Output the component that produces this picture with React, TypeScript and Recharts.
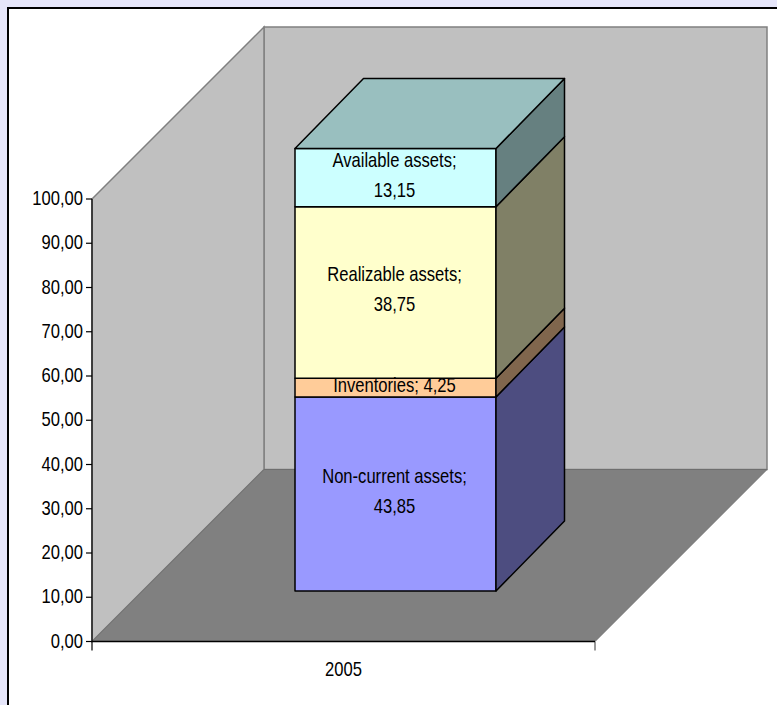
import { Bar, BarChart, LabelList, XAxis, YAxis } from 'recharts'

const years = ['2005']
const nonCurrentAssets = [43.85]
const inventories = [4.25]
const realizableAssets = [38.75]
const availableAssets = [13.15]
const valueTicks = [0, 10, 20, 30, 40, 50, 60, 70, 80, 90, 100]

const rows = years.map((year, i) => ({
  year,
  nonCurrent: nonCurrentAssets[i],
  inventories: inventories[i],
  realizable: realizableAssets[i],
  available: availableAssets[i],
}))

// plot rectangle of the front plane
const PLOT_LEFT = 92
const PLOT_RIGHT = 595
const PLOT_TOP = 199
const PLOT_BOTTOM = 641.5
// how far the walls recede
const WALL_DEPTH = 172
// the column sits halfway into the floor
const COLUMN_SHIFT_X = 52
const COLUMN_SHIFT_Y = -50.5
const COLUMN_DX = 68.5
const COLUMN_DY = -70

const FONT = '"Liberation Sans", Arial, sans-serif'
const TEXT_SQUEEZE = 0.83

const fmt = (v: number) => v.toFixed(2).replace('.', ',')

function Squeezed({ x, y, anchor, children }: any) {
  return (
    <text
      transform={`translate(${x},${y}) scale(${TEXT_SQUEEZE},1)`}
      textAnchor={anchor}
      dominantBaseline="central"
      fontFamily={FONT}
      fontSize={20}
      fill="#000"
    >
      {children}
    </text>
  )
}

function Walls() {
  const d = WALL_DEPTH
  return (
    <g>
      <rect
        x={PLOT_LEFT + d}
        y={PLOT_TOP - d}
        width={PLOT_RIGHT - PLOT_LEFT}
        height={PLOT_BOTTOM - PLOT_TOP}
        fill="#c0c0c0"
        stroke="#808080"
        strokeWidth={1.5}
      />
      <polygon
        points={`${PLOT_LEFT},${PLOT_TOP} ${PLOT_LEFT + d},${PLOT_TOP - d} ${PLOT_LEFT + d},${PLOT_BOTTOM - d} ${PLOT_LEFT},${PLOT_BOTTOM}`}
        fill="#c0c0c0"
        stroke="#808080"
        strokeWidth={1.5}
      />
      <polygon
        points={`${PLOT_LEFT},${PLOT_BOTTOM} ${PLOT_RIGHT},${PLOT_BOTTOM} ${PLOT_RIGHT + d},${PLOT_BOTTOM - d} ${PLOT_LEFT + d},${PLOT_BOTTOM - d}`}
        fill="#808080"
        stroke="#6e6e6e"
        strokeWidth={1}
      />
      <line x1={PLOT_LEFT} x2={PLOT_LEFT} y1={PLOT_BOTTOM} y2={PLOT_BOTTOM + 9} stroke="#000" strokeWidth={1.2} />
      <line x1={PLOT_RIGHT} x2={PLOT_RIGHT} y1={PLOT_BOTTOM} y2={PLOT_BOTTOM + 9} stroke="#555" strokeWidth={1.2} />
    </g>
  )
}

// front, side and (for the last segment) top faces of one stacked segment
const boxShape = (front: string, side: string, top?: string) => (props: any) => {
  const x = props.x + COLUMN_SHIFT_X
  const y = props.y + COLUMN_SHIFT_Y
  const { width: w, height: h } = props
  const dx = COLUMN_DX
  const dy = COLUMN_DY
  return (
    <g stroke="#000" strokeWidth={1.5} strokeLinejoin="round">
      <rect x={x} y={y} width={w} height={h} fill={front} />
      <polygon
        points={`${x + w},${y} ${x + w + dx},${y + dy} ${x + w + dx},${y + h + dy} ${x + w},${y + h}`}
        fill={side}
      />
      {top && (
        <polygon
          points={`${x},${y} ${x + dx},${y + dy} ${x + w + dx},${y + dy} ${x + w},${y}`}
          fill={top}
        />
      )}
    </g>
  )
}

const segmentLabel = (name: string, oneLine?: boolean) => (props: any) => {
  const cx = props.x + COLUMN_SHIFT_X + props.width / 2 - 1
  const cy = props.y + COLUMN_SHIFT_Y + props.height / 2 - 3
  const value = fmt(Number(props.value))
  if (oneLine) {
    return <Squeezed x={cx} y={cy} anchor="middle">{`${name}; ${value}`}</Squeezed>
  }
  return (
    <g>
      <Squeezed x={cx} y={cy - 15} anchor="middle">{`${name};`}</Squeezed>
      <Squeezed x={cx} y={cy + 15} anchor="middle">{value}</Squeezed>
    </g>
  )
}

const YTick = ({ x, y, payload }: any) => (
  <Squeezed x={x - 1} y={y - 1} anchor="end">{fmt(payload.value)}</Squeezed>
)

const XTick = ({ x, y, payload }: any) => (
  <Squeezed x={x} y={y + 19} anchor="middle">{payload.value}</Squeezed>
)

export default function App() {
  return (
    <div style={{ position: 'absolute', left: 0, top: 0, width: 777, height: 705, overflow: 'hidden', background: '#e6e6fa' }}>
      <div style={{ position: 'absolute', left: 7, top: 7, width: 800, height: 800, background: '#fff', border: '2px solid #000' }} />
      <div style={{ position: 'absolute', left: 0, top: 0 }}>
        <BarChart
          width={777}
          height={705}
          data={rows}
          margin={{ left: PLOT_LEFT - 60, right: 777 - PLOT_RIGHT, top: PLOT_TOP, bottom: 705 - PLOT_BOTTOM - 40 }}
        >
          <Walls />
          <XAxis
            dataKey="year"
            height={40}
            axisLine={{ stroke: '#000', strokeWidth: 1.5 }}
            tickLine={false}
            tick={<XTick />}
          />
          <YAxis
            width={60}
            domain={[0, 100]}
            ticks={valueTicks}
            interval={0}
            axisLine={{ stroke: '#000', strokeWidth: 1.2 }}
            tickLine={{ stroke: '#000', strokeWidth: 1.2 }}
            tickSize={6}
            tick={<YTick />}
          />
          <Bar dataKey="nonCurrent" stackId="a" barSize={201} isAnimationActive={false} shape={boxShape('#9999ff', '#4d4d80')}>
            <LabelList dataKey="nonCurrent" content={segmentLabel('Non-current assets')} />
          </Bar>
          <Bar dataKey="inventories" stackId="a" barSize={201} isAnimationActive={false} shape={boxShape('#ffcc99', '#80664d')}>
            <LabelList dataKey="inventories" content={segmentLabel('Inventories', true)} />
          </Bar>
          <Bar dataKey="realizable" stackId="a" barSize={201} isAnimationActive={false} shape={boxShape('#ffffcc', '#808066')}>
            <LabelList dataKey="realizable" content={segmentLabel('Realizable assets')} />
          </Bar>
          <Bar dataKey="available" stackId="a" barSize={201} isAnimationActive={false} shape={boxShape('#ccffff', '#668080', '#99bfbf')}>
            <LabelList dataKey="available" content={segmentLabel('Available assets')} />
          </Bar>
        </BarChart>
      </div>
    </div>
  )
}
